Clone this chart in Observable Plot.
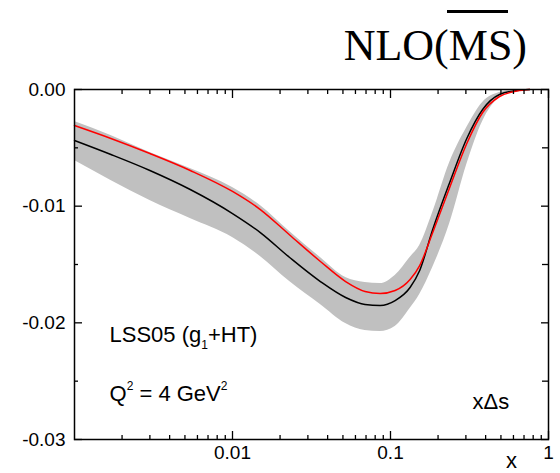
<!DOCTYPE html>
<html><head><meta charset="utf-8">
<script src="https://cdn.jsdelivr.net/npm/d3@7"></script>
<script src="https://cdn.jsdelivr.net/npm/@observablehq/plot@0.6"></script>
<style>
body{margin:0;background:#fff;}
#wrap{position:relative;width:560px;height:473px;}
#title{position:absolute;right:33px;top:24px;font:44px/1 "Liberation Serif","Times New Roman",serif;color:#000;white-space:nowrap;}
#bar{position:absolute;left:447px;top:10px;width:61px;height:3px;background:#000;}
</style></head><body><div id="wrap"><div id="title">NLO(MS)</div><div id="bar"></div></div>
<script>
const xs        = [0.001, 0.0017, 0.003, 0.0054, 0.01, 0.015, 0.023, 0.036, 0.052, 0.069, 0.086, 0.107, 0.133, 0.153, 0.185, 0.237, 0.304, 0.383, 0.49, 0.63, 0.76];
const central   = [-0.00437,-0.00557,-0.00694,-0.00857,-0.01063,-0.01226,-0.01440,-0.01646,-0.01783,-0.01843,-0.01851,-0.01809,-0.01697,-0.01551,-0.01200,-0.00797,-0.00420,-0.00171,-0.00043,-0.00009,0];
const redCurve  = [-0.00309,-0.00420,-0.00549,-0.00694,-0.00874,-0.01029,-0.01247,-0.01474,-0.01646,-0.01731,-0.01749,-0.01723,-0.01629,-0.01509,-0.01226,-0.00840,-0.00463,-0.00197,-0.00060,-0.00013,0];
const bandUpper = [-0.00274,-0.00394,-0.00540,-0.00677,-0.00840,-0.00994,-0.01217,-0.01440,-0.01611,-0.01654,-0.01663,-0.01594,-0.01440,-0.01337,-0.01054,-0.00626,-0.00326,-0.00111,-0.00026,-0.00004,0];
const bandLower = [-0.00609,-0.00780,-0.00951,-0.01106,-0.01269,-0.01431,-0.01646,-0.01843,-0.02006,-0.02066,-0.02074,-0.02031,-0.01877,-0.01757,-0.01526,-0.01149,-0.00643,-0.00274,-0.00069,-0.00009,0];

const xMajor = [0.01, 0.1, 1];
const xTickLabels = ["0.01", "0.1", "1"];
const xMinor = [0.002,0.003,0.004,0.005,0.006,0.007,0.008,0.009,0.02,0.03,0.04,0.05,0.06,0.07,0.08,0.09,0.2,0.3,0.4,0.5,0.6,0.7,0.8,0.9];
const yMajor = [0, -0.01, -0.02, -0.03];
const yTickLabels = ["0.00", "-0.01", "-0.02", "-0.03"];
const yMinor = [-0.005, -0.015, -0.025];

const rows = xs.map((x, i) => ({x, c: central[i], r: redCurve[i], lo: bandLower[i], hi: bandUpper[i]}));

const chart = Plot.plot({
  width: 560, height: 473,
  marginLeft: 74, marginRight: 12, marginTop: 89, marginBottom: 34,
  x: {type: "log", domain: [0.001, 1]},
  y: {domain: [-0.03, 0]},
  style: {fontFamily: "'Liberation Sans', Arial, sans-serif", background: "white", color: "black"},
  marks: [
    Plot.areaY(rows, {x: "x", y1: "lo", y2: "hi", fill: "#c0c0c0", curve: "monotone-x"}),
    Plot.lineY(rows, {x: "x", y: "c", stroke: "black", strokeWidth: 1.5, curve: "monotone-x"}),
    Plot.lineY(rows, {x: "x", y: "r", stroke: "#ff0000", strokeWidth: 1.5, curve: "monotone-x"}),
    Plot.frame({stroke: "black", strokeWidth: 1.5}),
    Plot.axisX(xMajor, {anchor: "bottom", tickSize: -8, fill: "none", label: null, strokeWidth: 1.3}),
    Plot.axisX(xMinor, {anchor: "bottom", tickSize: -4, fill: "none", label: null, strokeWidth: 1.3}),
    Plot.axisX(xMajor, {anchor: "top", tickSize: -8, fill: "none", label: null, strokeWidth: 1.3}),
    Plot.axisX(xMinor, {anchor: "top", tickSize: -4, fill: "none", label: null, strokeWidth: 1.3}),
    Plot.axisY(yMajor, {anchor: "left", tickSize: -8, fill: "none", label: null, strokeWidth: 1.3}),
    Plot.axisY(yMinor, {anchor: "left", tickSize: -4, fill: "none", label: null, strokeWidth: 1.3}),
    Plot.axisY(yMajor, {anchor: "right", tickSize: -8, fill: "none", label: null, strokeWidth: 1.3}),
    Plot.axisY(yMinor, {anchor: "right", tickSize: -7, fill: "none", label: null, strokeWidth: 1.3}),
    Plot.axisX(xMajor, {anchor: "bottom", tickSize: 0, tickPadding: 6, fontSize: 19, label: null,
      tickFormat: d => xTickLabels[xMajor.indexOf(d)]}),
    Plot.axisY(yMajor, {anchor: "left", tickSize: 0, tickPadding: 9, fontSize: 19, label: null,
      tickFormat: d => yTickLabels[yMajor.indexOf(d)]}),
    Plot.text(["x"], {frameAnchor: "bottom-right", dx: -37, dy: 28, lineAnchor: "bottom", textAnchor: "middle", fontSize: 22}),
    Plot.text(["xΔs"], {frameAnchor: "bottom-right", dx: -76, dy: -31, lineAnchor: "bottom", textAnchor: "start", fontSize: 22}),
    Plot.text(["LSS05 (g1+HT)"], {frameAnchor: "left", dx: 35, dy: 77, lineAnchor: "bottom", textAnchor: "start", fontSize: 22}),
    Plot.text(["Q2 = 4 GeV2"], {frameAnchor: "left", dx: 35, dy: 136, lineAnchor: "bottom", textAnchor: "start", fontSize: 22})
  ]
});

document.getElementById("wrap").prepend(chart);

// typographic sub/superscripts
d3.select(chart).selectAll("text").each(function() {
  const t = d3.select(this);
  const s = this.textContent;
  if (s === "LSS05 (g1+HT)") {
    t.text("LSS05 (g");
    t.append("tspan").attr("font-size", 12).attr("dy", 7).text("1");
    t.append("tspan").attr("dy", -7).text("+HT)");
  } else if (s === "Q2 = 4 GeV2") {
    t.text("Q");
    t.append("tspan").attr("font-size", 12).attr("dy", -11).text("2");
    t.append("tspan").attr("dy", 11).text(" = 4 GeV");
    t.append("tspan").attr("font-size", 12).attr("dy", -11).text("2");
  }
});
</script></body></html>
